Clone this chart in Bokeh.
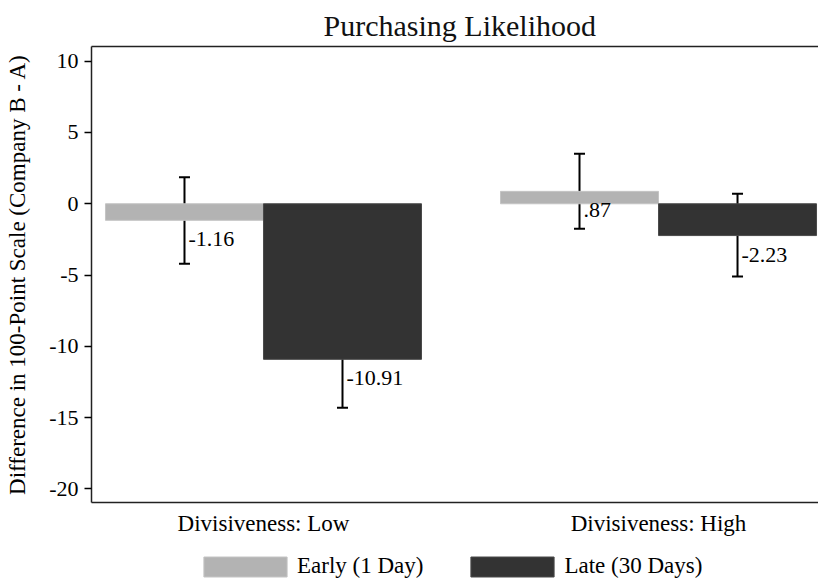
from bokeh.plotting import figure
from bokeh.layouts import column
from bokeh.models import (ColumnDataSource, Whisker, FixedTicker, Legend, LegendItem,
                          LinearAxis, Range1d, Title, TeeHead)
from bokeh.transform import dodge
from bokeh.core.properties import value
from bokeh.embed import file_html
from bokeh.resources import INLINE

# ---- data ----
categories = ["Divisiveness: Low", "Divisiveness: High"]
periods = ["Early (1 Day)", "Late (30 Days)"]
early = [-1.16, 0.87]
late = [-10.91, -2.23]
early_lo = [-4.20, -1.75]
early_hi = [1.86, 3.50]
late_lo = [-14.30, -5.10]
late_hi = [-7.53, 0.70]
early_lbl = ["-1.16", ".87"]
late_lbl = ["-10.91", "-2.23"]
y_ticks = [-20, -15, -10, -5, 0, 5, 10]
y_tick_labels = ["-20", "-15", "-10", "-5", "0", "5", "10"]

FONT = "Liberation Serif"
LIGHT = "#b3b3b3"
DARK = "#333333"

xs = list(range(len(categories)))
src_e = ColumnDataSource(dict(x=xs, v=early, lo=early_lo, hi=early_hi, lbl=early_lbl))
src_l = ColumnDataSource(dict(x=xs, v=late, lo=late_lo, hi=late_hi, lbl=late_lbl))

p = figure(width=818, height=545, output_backend="svg", toolbar_location=None,
           x_range=Range1d(-0.4354, 1.405), y_range=Range1d(-20.95, 11.03),
           min_border_left=91, min_border_right=0, min_border_top=46, min_border_bottom=43)
p.title = Title(text="Purchasing Likelihood", align="left", offset=232, text_font=FONT,
                text_font_size="30px", text_font_style="normal", text_color="#111111")

p.xgrid.visible = False
p.ygrid.visible = False
p.outline_line_color = None
p.background_fill_color = "white"

W = 0.4
r_e = p.vbar(x=dodge("x", -W / 2), top="v", bottom=0, width=W, source=src_e,
             fill_color=LIGHT, line_color="#c4c4c4", line_width=1)
r_l = p.vbar(x=dodge("x", W / 2), top="v", bottom=0, width=W, source=src_l,
             fill_color=DARK, line_color="#4a4a4a", line_width=1)

for src, off in ((src_e, -W / 2), (src_l, W / 2)):
    wk = Whisker(base=dodge("x", off), upper="hi", lower="lo", source=src,
                 line_color="black", line_width=2,
                 upper_head=TeeHead(size=11, line_width=2, line_color="black"),
                 lower_head=TeeHead(size=11, line_width=2, line_color="black"))
    p.add_layout(wk)
    p.text(x=dodge("x", off), y="v", text="lbl", source=src,
           text_font=value(FONT), text_font_size="22px", text_color="black",
           text_align="left", text_baseline="middle", x_offset=4, y_offset=19)

# y axis
ya = p.yaxis[0]
ya.ticker = FixedTicker(ticks=y_ticks)
ya.major_label_overrides = dict(zip(y_ticks, y_tick_labels))
ya.minor_tick_line_color = None
ya.major_tick_out = 7
ya.major_tick_in = 0
ya.major_label_standoff = 6
ya.major_label_text_font = FONT
ya.major_label_text_font_size = "22px"
ya.major_label_text_color = "black"
ya.axis_label = "Difference in 100-Point Scale (Company B - A)"
ya.axis_label_text_font = FONT
ya.axis_label_text_font_size = "23px"
ya.axis_label_text_font_style = "normal"
ya.axis_label_text_color = "black"
ya.axis_label_standoff = 16
ya.axis_line_width = 1.5
ya.axis_line_color = "#222222"
ya.major_tick_line_width = 1.5

# x axis
xa = p.xaxis[0]
xa.ticker = FixedTicker(ticks=xs)
xa.major_label_overrides = {i: c for i, c in enumerate(categories)}
xa.major_tick_out = 0
xa.major_tick_in = 0
xa.minor_tick_line_color = None
xa.major_label_standoff = 8
xa.major_label_text_font = FONT
xa.major_label_text_font_size = "23px"
xa.major_label_text_color = "black"
xa.axis_line_width = 1.5
xa.axis_line_color = "#222222"

# top frame line
top = LinearAxis(ticker=FixedTicker(ticks=[]), major_label_text_font_size="0px",
                 major_tick_line_color=None, minor_tick_line_color=None,
                 axis_line_width=1.5, axis_line_color="#222222")
p.add_layout(top, "above")

# legend strip (separate figure below the chart; its bars lie outside its view)
pl = figure(width=818, height=36, output_backend="svg", toolbar_location=None,
            x_range=Range1d(-0.4354, 1.405), y_range=Range1d(100, 101),
            x_axis_location=None, y_axis_location=None, min_border=0,
            min_border_left=91, min_border_right=0)
pl.xgrid.visible = False
pl.ygrid.visible = False
pl.outline_line_color = None
g_e = pl.vbar(x="x", top="v", bottom=0, width=W, source=src_e,
              fill_color=LIGHT, line_color="#c4c4c4", line_width=1)
g_l = pl.vbar(x="x", top="v", bottom=0, width=W, source=src_l,
              fill_color=DARK, line_color="#4a4a4a", line_width=1)
legend = Legend(items=[LegendItem(label=periods[0], renderers=[g_e]),
                       LegendItem(label=periods[1], renderers=[g_l])],
                orientation="horizontal", location=(102, 2),
                glyph_width=104, glyph_height=25, label_standoff=0, spacing=37,
                label_text_font=FONT, label_text_font_size="23px", label_text_color="black",
                border_line_color=None, background_fill_alpha=0, padding=0, margin=0,
                label_height=20)
pl.add_layout(legend)

open("out.html", "w").write(file_html(column(p, pl, spacing=0), INLINE))
